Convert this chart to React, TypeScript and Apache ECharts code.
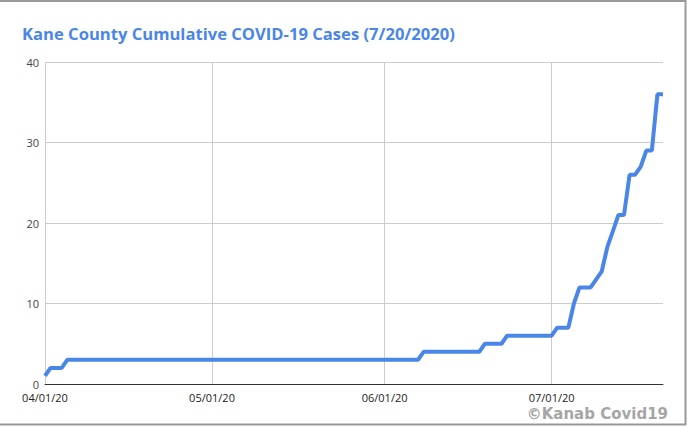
import React, { useEffect, useRef } from "react";
import * as echarts from "echarts";

const startDate = "2020-04-01";
const monthTickLabels = ["04/01/20", "05/01/20", "06/01/20", "07/01/20"];
// Cumulative cases per day, 04/01/20 .. 07/21/20
const cases = [
  1, 2, 2, 2, 3, 3, 3, 3, 3, 3, // 4/1 - 4/10
  3, 3, 3, 3, 3, 3, 3, 3, 3, 3, // 4/11 - 4/20
  3, 3, 3, 3, 3, 3, 3, 3, 3, 3, // 4/21 - 4/30
  3, 3, 3, 3, 3, 3, 3, 3, 3, 3, // 5/1 - 5/10
  3, 3, 3, 3, 3, 3, 3, 3, 3, 3, // 5/11 - 5/20
  3, 3, 3, 3, 3, 3, 3, 3, 3, 3, 3, // 5/21 - 5/31
  3, 3, 3, 3, 3, 3, 3, 4, 4, 4, // 6/1 - 6/10
  4, 4, 4, 4, 4, 4, 4, 4, 5, 5, // 6/11 - 6/20
  5, 5, 6, 6, 6, 6, 6, 6, 6, 6, // 6/21 - 6/30
  6, 7, 7, 7, 10, 12, 12, 12, 13, 14, // 7/1 - 7/10
  17, 19, 21, 21, 26, 26, 27, 29, 29, 36, 36, // 7/11 - 7/21
];

function buildDates(): string[] {
  const out: string[] = [];
  const d = new Date(startDate + "T12:00:00");
  for (let i = 0; i < cases.length; i++) {
    const mm = String(d.getMonth() + 1).padStart(2, "0");
    const dd = String(d.getDate()).padStart(2, "0");
    out.push(`${mm}/${dd}/20`);
    d.setDate(d.getDate() + 1);
  }
  return out;
}

export default function App() {
  const ref = useRef<HTMLDivElement>(null);
  useEffect(() => {
    document.body.style.margin = "0";
    const chart = echarts.init(ref.current!, null, { renderer: "svg" });
    const dates = buildDates();
    const isMonthTick = (_i: number, v: string) => monthTickLabels.includes(v);
    chart.setOption({
      animation: false,
      backgroundColor: "#ffffff",
      title: {
        text: "Kane County Cumulative COVID-19 Cases (7/20/2020)",
        left: 17,
        top: 20,
        textStyle: {
          color: "#4a86e8",
          fontFamily: "Open Sans",
          fontWeight: "bold",
          fontSize: 16.6,
        },
      },
      grid: { left: 45, right: 25, top: 62, bottom: 43, containLabel: false },
      xAxis: {
        type: "category",
        data: dates,
        boundaryGap: false,
        axisLine: { show: true, lineStyle: { color: "#333333", width: 1 } },
        axisTick: { show: false },
        axisLabel: {
          interval: isMonthTick,
          color: "#222222",
          fontFamily: "Open Sans",
          fontSize: 11,
          margin: 8,
        },
        splitLine: {
          show: true,
          interval: isMonthTick,
          lineStyle: { color: "#cccccc", width: 1 },
        },
      },
      yAxis: {
        type: "value",
        min: 0,
        max: 40,
        interval: 10,
        axisLine: { show: false },
        axisTick: { show: false },
        axisLabel: {
          color: "#444444",
          fontFamily: "Open Sans",
          fontSize: 11,
          margin: 6,
        },
        splitLine: { show: true, lineStyle: { color: "#cccccc", width: 1 } },
      },
      series: [
        {
          type: "line",
          data: cases,
          showSymbol: false,
          symbol: "none",
          lineStyle: { color: "#4a86e8", width: 4 },
          itemStyle: { color: "#4a86e8" },
        },
      ],
      graphic: [
        {
          type: "text",
          right: 20,
          bottom: 6,
          style: {
            text: "©Kanab Covid19",
            fill: "#a6a6a6",
            font: "bold 15px 'DejaVu Sans'",
          },
        },
        {
          type: "line",
          shape: { x1: 0, y1: 1, x2: 686, y2: 1 },
          style: { stroke: "#999999", lineWidth: 2 },
        },
        {
          type: "line",
          shape: { x1: 685.5, y1: 0, x2: 685.5, y2: 425 },
          style: { stroke: "#999999", lineWidth: 2 },
        },
        {
          type: "line",
          shape: { x1: 0, y1: 424.5, x2: 686, y2: 424.5 },
          style: { stroke: "#999999", lineWidth: 2 },
        },
      ],
    });
    return () => chart.dispose();
  }, []);
  return <div ref={ref} style={{ width: 688, height: 427 }} />;
}
